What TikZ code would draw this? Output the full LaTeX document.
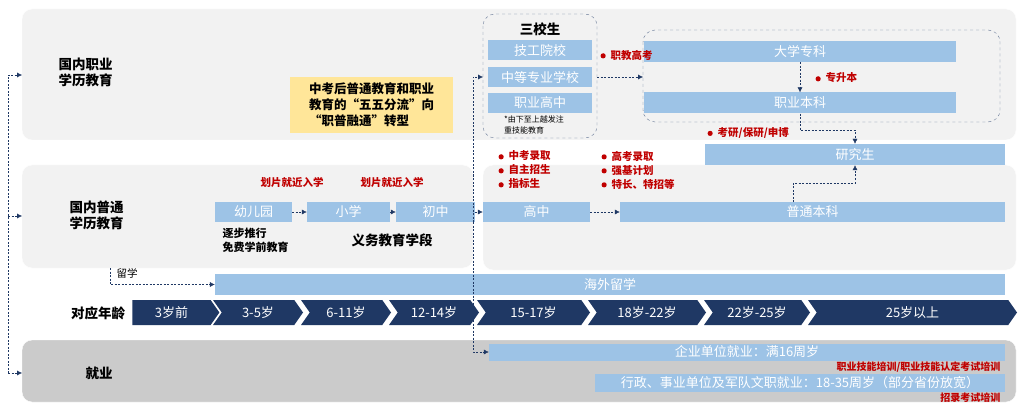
\documentclass[tikz,border=0pt]{standalone}
\usepackage{fontspec}
\setmainfont{Noto Sans CJK SC}
\usetikzlibrary{arrows.meta,shapes.symbols}
\definecolor{bx}{HTML}{9DC3E6}
\definecolor{navy}{HTML}{1F3864}
\definecolor{dred}{HTML}{C00000}
\definecolor{pan}{HTML}{F2F2F2}
\definecolor{pan2}{HTML}{CBCBCB}
\definecolor{yel}{HTML}{FFE699}
\newcommand{\rdot}{\textcolor{dred}{\raisebox{0.1ex}{\tikz\fill (0,0) circle (2.6pt);}}\hspace{5pt}}
\tikzset{
 bluebox/.style={fill=bx,text=white,font=\fontsize{13}{13}\selectfont,inner sep=0pt},
 panel/.style={fill=pan,draw=white,rounded corners=10pt},
 dl/.style={draw=navy,dashed,dash pattern=on 2pt off 1.5pt,-{Latex[length=5pt,width=5pt]}},
 red/.style={text=dred,font=\bfseries\fontsize{10.5}{14}\selectfont,align=left},
 lab/.style={font=\bfseries\fontsize{13.5}{16}\selectfont,align=left},
 age/.style={fill=navy,text=white,signal,signal to=east,signal pointer angle=110,inner sep=0pt,font=\fontsize{13}{13}\selectfont},
}
\begin{document}
\begin{tikzpicture}[x=1pt,y=-1pt]
\fill[white] (0,0) rectangle (1024,414);
\useasboundingbox (0,0) rectangle (1024,414);
% panels
\draw[panel] (22,9) rectangle (1016,140);
\draw[panel] (22,165) rectangle (473,268);
\draw[panel] (483,165) rectangle (1016,270);
\draw[panel,fill=pan2] (22,340) rectangle (1016,402);
% labels
\node[lab,anchor=west] (lz) at (55,72) {国内职业\\学历教育};
\node[lab,anchor=west] (lp) at (66,215) {国内普通\\学历教育};
\node[lab] (ly) at (98,313) {对应年龄};
\node[lab] (lj) at (99,373) {就业};
\node[fill=yel,minimum width=163,minimum height=56,inner sep=2pt,align=left,font=\bfseries\fontsize{12.5}{16}\selectfont] (yb) at (371.5,105) {中考后普通教育和职业\\教育的“五五分流”向\\“职普融通”转型};
% sanxiao
\draw[navy!70,dashed,rounded corners=12pt] (483,14) rectangle (597,138);
\node[lab] (sx) at (540,29) {三校生};
\node[bluebox,minimum width=104,minimum height=20] (jg) at (540,50.5) {技工院校};
\node[bluebox,minimum width=104,minimum height=20] (zd) at (540,77.5) {中等专业学校};
\node[bluebox,minimum width=104,minimum height=20] (zy) at (540,103) {职业高中};
\node[font=\fontsize{8}{11}\selectfont,align=left] (note) at (534,125) {*由下至上越发注\\重技能教育};
\draw[navy!70,dashed,rounded corners=12pt] (643,30) rectangle (1000,122);
\node[bluebox,minimum width=312,minimum height=21] (dz) at (800,51.5) {大学专科};
\node[bluebox,minimum width=312,minimum height=21] (zb) at (800,103) {职业本科};
\node[bluebox,minimum width=300,minimum height=21] (yjs) at (855,154.5) {研究生};
\draw[dl] (597,77) -- (643,77);
\draw[dl] (dz.south) -- (zb.north);
\draw[dl] (zb.south) |- (855,130) -- (yjs.north);
\node[red,anchor=west] (r1) at (597,55) {\rdot 职教高考};
\node[red,anchor=west] (r2) at (812,78) {\rdot 专升本};
\node[red,anchor=west] (r3) at (704,133) {\rdot 考研/保研/申博};
\node[red,anchor=west] (r4) at (495,170) {\rdot 中考录取\\\rdot 自主招生\\\rdot 指标生};
\node[red,anchor=west] (r5) at (598,170) {\rdot 高考录取\\\rdot 强基计划\\\rdot 特长、特招等};
% general row
\node[bluebox,minimum width=77,minimum height=20] (yey) at (253.5,212) {幼儿园};
\node[bluebox,minimum width=83,minimum height=20] (xx) at (348.5,212) {小学};
\node[bluebox,minimum width=79,minimum height=20] (cz) at (435.5,212) {初中};
\node[bluebox,minimum width=107,minimum height=20] (gz) at (536.5,212) {高中};
\node[bluebox,minimum width=385,minimum height=20] (bk) at (812.5,212) {普通本科};
\draw[dl] (yey) -- (xx);
\draw[dl] (xx) -- (cz);
\draw[dl] (cz) -- (gz);
\draw[dl] (gz) -- (bk);
\draw[dl] (793,202) |- (855,183) -- (yjs.south);
\node[red] (h1) at (292,182) {划片就近入学};
\node[red] (h2) at (392,182) {划片就近入学};
\node[font=\bfseries\fontsize{11}{14}\selectfont,align=left,anchor=west] (zbt) at (219,240) {逐步推行\\免费学前教育};
\node[lab] (yw) at (392,240) {义务教育学段};
% study abroad
\node[bluebox,minimum width=790,minimum height=21] (hw) at (610,284.5) {海外留学};
\draw[dl] (110,268) |- (hw.west);
\node[font=\fontsize{10.5}{10}\selectfont] (lx) at (127,273) {留学};
% ages
\foreach \a/\b/\t/\f in {128/215/3岁前/nowhere,213/303/3-5岁/west,301/391/6-11岁/west,389/479/12-14岁/west,477/590/15-17岁/west,588/706/18岁-22岁/west,704/810/22岁-25岁/west,808/1017/25岁以上/west}{
 \node[age,signal from=\f,minimum width=\b-\a,minimum height=25] at ({(\a+\b)/2},312.5) {\t};
}
% employment
\node[bluebox,minimum width=516,minimum height=17] (qy) at (747,352) {企业单位就业：满16周岁};
\node[bluebox,minimum width=410,minimum height=18] (xz) at (800,382.5) {行政、事业单位及军队文职就业：18-35周岁（部分省份放宽）};
\node[red,anchor=east,font=\bfseries\fontsize{10}{10}\selectfont] (px1) at (1004,367) {职业技能培训/职业技能认定考试培训};
\node[red,anchor=east,font=\bfseries\fontsize{10}{10}\selectfont] (px2) at (1004,398) {招录考试培训};
% left line
\draw[dl] (8,373) -- (8,75) -- (22,75);
\draw[dl] (8,216) -- (22,216);
\draw[dl] (8,373) -- (22,373);
% vertical from 初中
\draw[dl] (473,222) |- (483,77);
\draw[dl] (473,222) |- (qy.west);
\end{tikzpicture}
\end{document}
